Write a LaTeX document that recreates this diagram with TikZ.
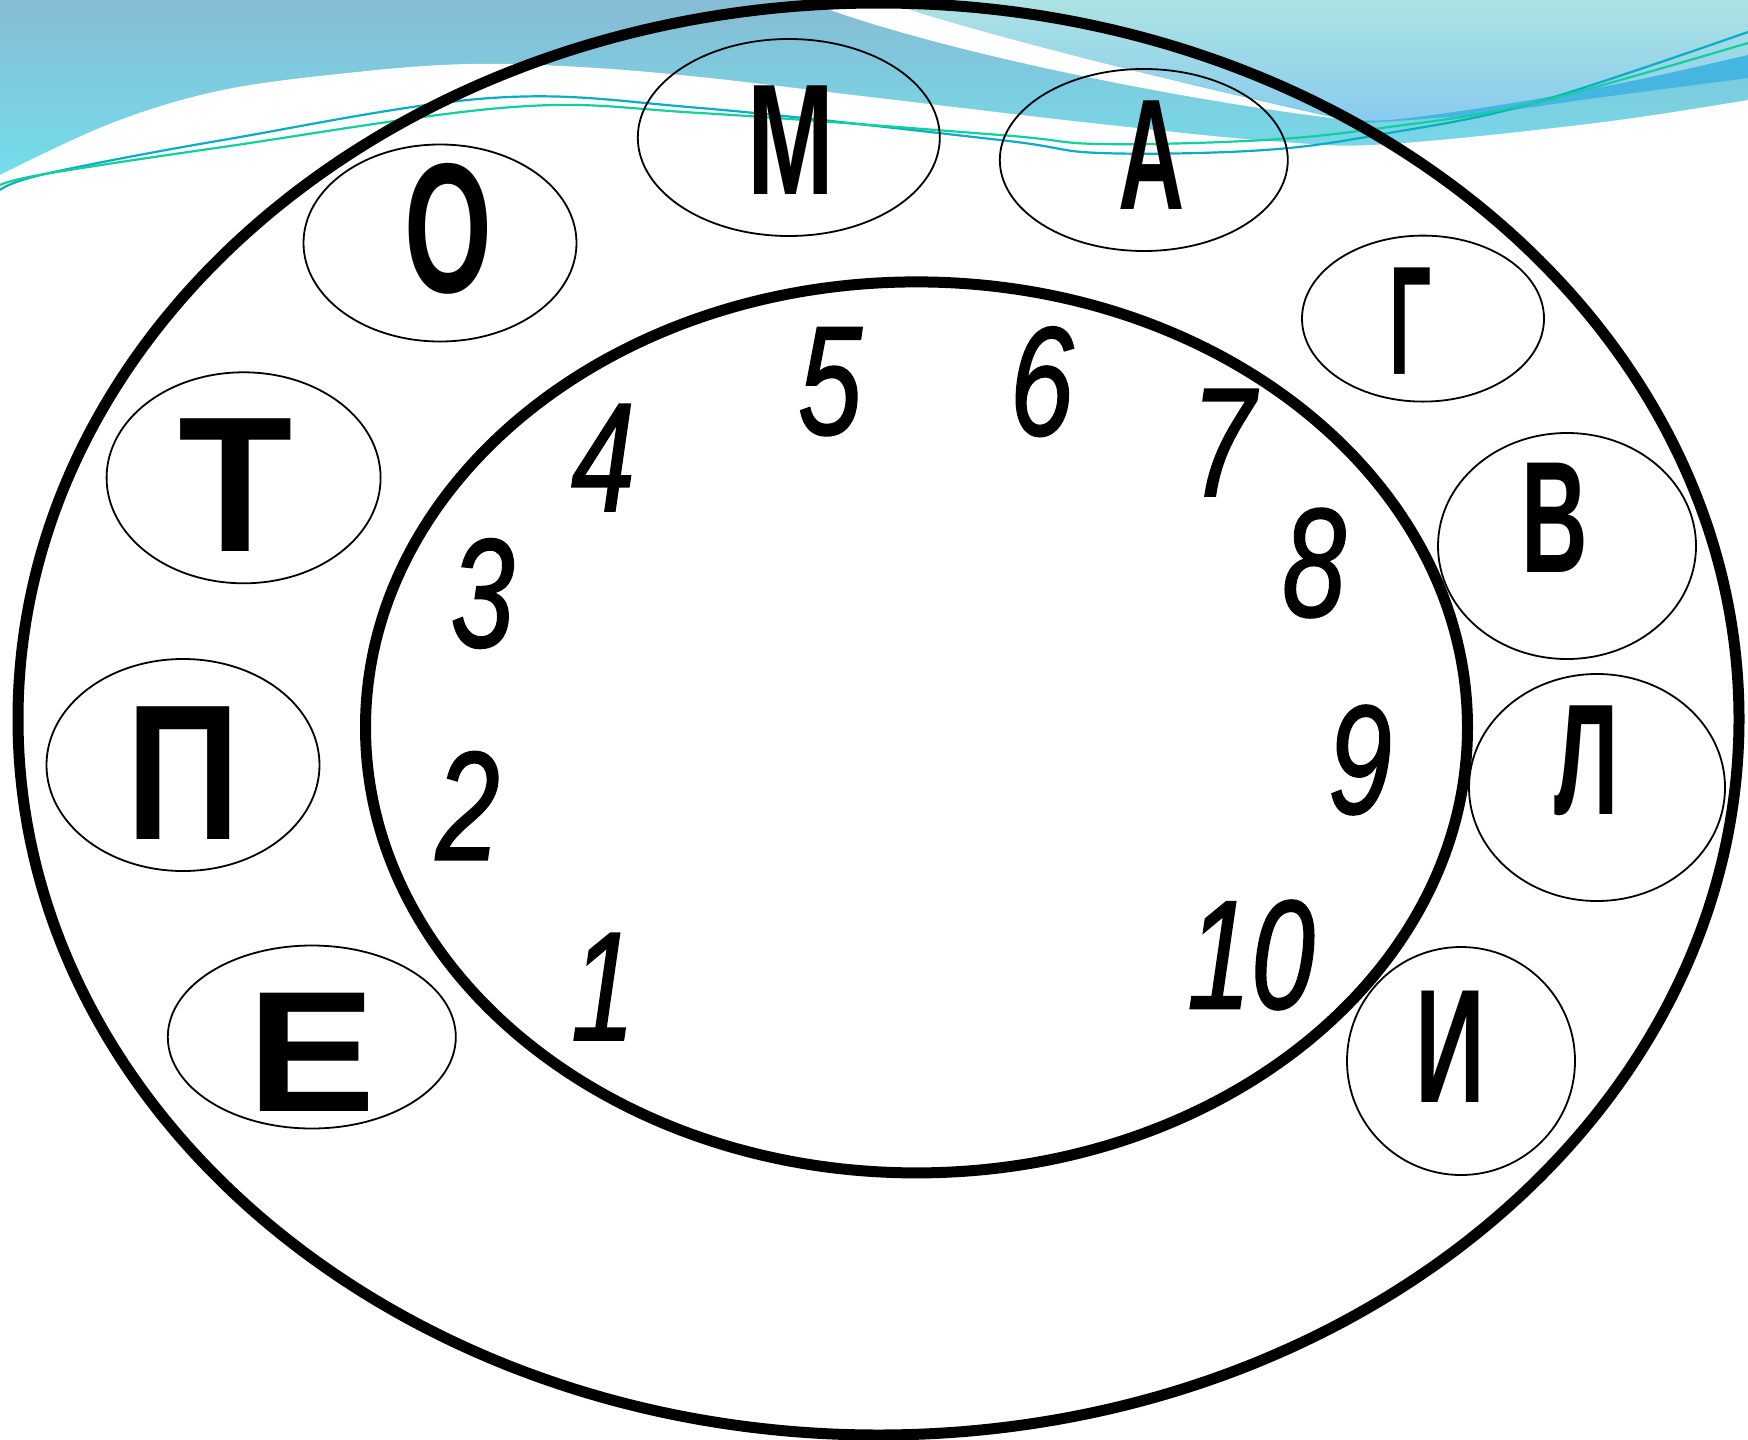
\documentclass[tikz,border=0pt]{standalone}
\usepackage{fontspec}
\setmainfont{Liberation Sans}
\newfontfamily\digfont{Liberation Sans}[FakeBold=1.2]
\usepackage{graphicx}
\usetikzlibrary{shapes.geometric}
\definecolor{bgTop}{HTML}{87BCD5}
\definecolor{bgBot}{HTML}{70E2EE}
\definecolor{rTop}{HTML}{ADE3E2}
\definecolor{rBot}{HTML}{88CBEF}
\definecolor{bandBlue}{HTML}{45B6E2}
\definecolor{lnTeal}{HTML}{0AAEC2}
\definecolor{lnGreen}{HTML}{12CF9E}
\newcommand\myLtr[3]{\fontsize{#1}{#1}\selectfont\bfseries\scalebox{#2}[1]{#3}}
\newcommand\myDig[1]{\scalebox{0.74}[1]{#1}}
\tikzset{
  ring/.style={draw=black, ellipse, line width=11pt, inner sep=0pt, outer sep=0pt},
  cell/.style={draw=black, ellipse, line width=1.8pt, inner sep=0pt, outer sep=0pt},
  ltr/.style={inner sep=0pt, text=black},
  dig/.style={inner sep=0pt, text=black, font=\digfont\fontsize{155}{155}\selectfont\itshape},
  wave/.style={line width=2.2pt},
}
\begin{document}
\begin{tikzpicture}[x=1pt,y=-1pt]
\useasboundingbox (0,0) rectangle (1748,1440);
% background
\fill[white] (0,0) rectangle (1748,1440);
\shade[top color=bgTop, bottom color=bgBot] (0,0) rectangle (1748,200);
\shade[top color=rTop, bottom color=rBot]
  (880,0) .. controls (980,35) and (1200,88) .. (1340,117)
  -- plot[smooth, tension=0.6] coordinates {(1340,117) (1389,120) (1513,103) (1637,80) (1748,55)}
  -- (1748,0) -- cycle;
\fill[bandBlue]
  plot[smooth, tension=0.6] coordinates {(1340,117) (1389,120) (1513,103) (1637,80) (1748,55)}
  -- (1748,78)
  -- plot[smooth, tension=0.6] coordinates {(1748,78) (1596,98) (1472,115) (1348,124)} -- cycle;
\fill[white]
  (803,0) .. controls (930,50) and (1180,100) .. (1340,119)
  .. controls (1200,88) and (980,35) .. (880,0) -- cycle;
\fill[white]
  plot[smooth, tension=0.6] coordinates {(0,175) (112,123) (223,90) (357,72) (469,64) (580,67) (700,77) (870,97) (1100,124) (1282,142) (1389,144) (1596,123) (1748,100)}
  -- (1748,1440) -- (0,1440) -- cycle;
\draw[wave, lnTeal] plot[smooth, tension=0.6] coordinates {(0,190) (45,174) (223,140) (491,98) (700,108) (1000,140) (1100,153) (1265,150) (1389,133) (1534,103) (1748,32)};
\draw[wave, lnGreen] plot[smooth, tension=0.6] coordinates {(0,185) (45,174) (223,147) (513,107) (700,113) (1000,135) (1100,144) (1265,140) (1389,127) (1534,103) (1748,43)};
% rings
\node[ring, minimum width=1721pt, minimum height=1432pt] (outer) at (878.5,719) {};
\node[ring, minimum width=1102pt, minimum height=891pt] (inner) at (916.5,727.4) {};
% letter cells
\node[cell, minimum width=302pt, minimum height=197pt] (cM) at (788.8,137.5) {};
\node[cell, minimum width=288pt, minimum height=182pt] (cA) at (1143.8,160) {};
\node[cell, minimum width=242pt, minimum height=166pt] (cG) at (1423,318.6) {};
\node[cell, minimum width=258pt, minimum height=226pt] (cV) at (1567,546) {};
\node[cell, minimum width=256pt, minimum height=227pt] (cL) at (1597,787.5) {};
\node[cell, minimum width=228pt, minimum height=228pt] (cI) at (1461,1061) {};
\node[cell, minimum width=273pt, minimum height=197pt] (cO) at (440,243) {};
\node[cell, minimum width=274pt, minimum height=211pt] (cT) at (243.6,477.8) {};
\node[cell, minimum width=273pt, minimum height=212pt] (cP) at (183,765) {};
\node[cell, minimum width=288pt, minimum height=183pt] (cE) at (311.8,1037) {};
% letters
\node[ltr] (tM) at (791,140) {\myLtr{158}{0.66}{М}};
\node[ltr] (tA) at (1152,155) {\myLtr{158}{0.58}{А}};
\node[ltr] (tG) at (1411,321.5) {\myLtr{155}{0.48}{Г}};
\node[ltr] (tV) at (1554.7,518) {\myLtr{159}{0.58}{В}};
\node[ltr] (tL) at (1587,760.5) {\myLtr{158}{0.58}{Л}};
\node[ltr] (tI) at (1450.5,1047) {\myLtr{162}{0.60}{И}};
\node[ltr] (tO) at (448,228.5) {\myLtr{185}{0.61}{О}};
\node[ltr] (tT) at (236,485) {\myLtr{193}{0.97}{Т}};
\node[ltr] (tP) at (183,773) {\myLtr{193}{0.82}{П}};
\node[ltr] (tE) at (311.8,1052.3) {\myLtr{172}{1.12}{Е}};
% digits
\node[dig] (d1) at (603,986.6) {\myDig{1}};
\node[dig] (d2) at (467.7,805.6) {\myDig{2}};
\node[dig] (d3) at (482.5,593.5) {\myDig{3}};
\node[dig] (d4) at (603,457.5) {\myDig{4}};
\node[dig] (d5) at (830,381.7) {\myDig{5}};
\node[dig] (d6) at (1041.7,381.7) {\myDig{6}};
\node[dig] (d7) at (1223,442.5) {\myDig{7}};
\node[dig] (d8) at (1314,563) {\myDig{8}};
\node[dig] (d9) at (1360,760) {\myDig{9}};
\node[dig] (d10) at (1251,955) {\myDig{10}};
\end{tikzpicture}
\end{document}
